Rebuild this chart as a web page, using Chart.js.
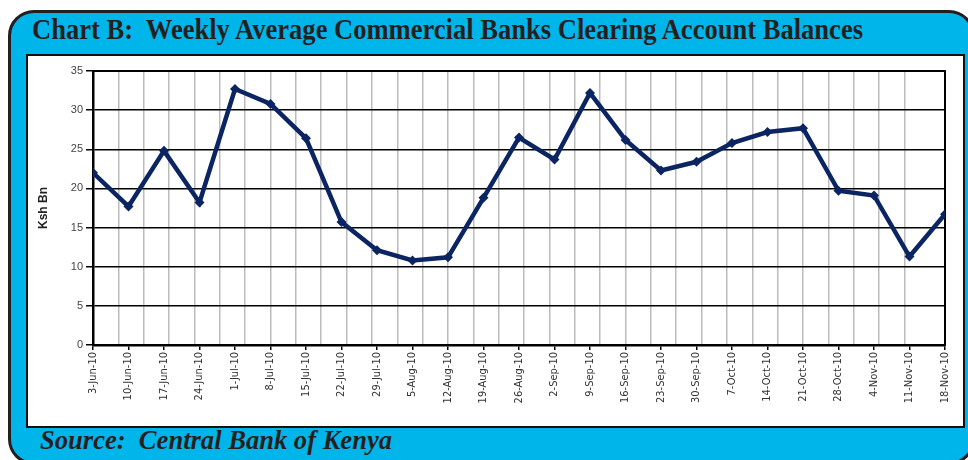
<!DOCTYPE html>
<html>
<head>
<meta charset="utf-8">
<script src="https://cdn.jsdelivr.net/npm/chart.js@4/dist/chart.umd.min.js"></script>
<style>
  html, body { margin: 0; padding: 0; background: #fff; overflow: hidden; }
  #frame {
    position: absolute; left: 8px; top: 10px; width: 967px; height: 455px;
    box-sizing: border-box; background: #00b5ea;
    border: 3px solid #231f20; border-radius: 26px;
  }
  #panel {
    position: absolute; left: 26px; top: 54px; width: 939px; height: 374px;
    box-sizing: border-box; background: #fff; border: 2px solid #111;
  }
  .caption {
    position: absolute; white-space: pre; color: #231f20;
    font-family: "Liberation Serif", "Times New Roman", serif; font-weight: bold;
    transform-origin: 0 0;
  }
  #title { left: 32px; top: 13px; font-size: 29px; }
  #source { left: 40px; top: 424px; font-size: 28px; font-style: italic; }
  #chart { position: absolute; left: 0; top: 0; }
</style>
</head>
<body>
<div id="frame"></div>
<div id="panel"></div>
<div id="title" class="caption">Chart B:  Weekly Average Commercial Banks Clearing Account Balances</div>
<div id="source" class="caption">Source:  Central Bank of Kenya</div>
<canvas id="chart" width="968" height="460"></canvas>
<script>
// Weekly dates (one point per week) and balances in Ksh Bn
const weeks = ['3-Jun-10', '10-Jun-10', '17-Jun-10', '24-Jun-10', '1-Jul-10', '8-Jul-10',
  '15-Jul-10', '22-Jul-10', '29-Jul-10', '5-Aug-10', '12-Aug-10', '19-Aug-10', '26-Aug-10',
  '2-Sep-10', '9-Sep-10', '16-Sep-10', '23-Sep-10', '30-Sep-10', '7-Oct-10', '14-Oct-10',
  '21-Oct-10', '28-Oct-10', '4-Nov-10', '11-Nov-10', '18-Nov-10'];
const balances = [22.0, 17.7, 24.8, 18.2, 32.7, 30.8, 26.4, 15.7, 12.1, 10.8, 11.2, 18.8, 26.5,
  23.7, 32.2, 26.2, 22.3, 23.4, 25.8, 27.2, 27.7, 19.7, 19.1, 11.3, 16.7];
const yTicks = { min: 0, max: 35, step: 5 };
const daysPerWeek = 7;
const gridDays = 5; // vertical gridlines every 5 days (date axis)

// squeeze the serif captions to their width in the original
function fitWidth(id, target) {
  const el = document.getElementById(id);
  el.style.transform = 'scaleX(' + (target / el.getBoundingClientRect().width) + ')';
}
fitWidth('title', 831);
fitWidth('source', 352);

const lastDay = (weeks.length - 1) * daysPerWeek;
const navy = '#0b2462';

new Chart(document.getElementById('chart'), {
  type: 'line',
  data: {
    datasets: [{
      data: balances.map((v, i) => ({ x: i * daysPerWeek, y: v })),
      borderColor: navy,
      backgroundColor: navy,
      borderWidth: 4.5,
      tension: 0,
      pointStyle: 'rectRot',
      pointRadius: 5,
      pointBorderWidth: 0,
      xAxisID: 'x',
      yAxisID: 'y'
    }]
  },
  options: {
    responsive: false,
    animation: false,
    events: [],
    layout: { padding: { left: 32, right: 23, top: 71, bottom: 55 } },
    plugins: { legend: { display: false }, tooltip: { enabled: false } },
    scales: {
      xgrid: {
        type: 'linear', position: 'top', z: -1,
        min: 0, max: lastDay,
        ticks: { display: false, stepSize: gridDays },
        grid: { color: '#bcbcbc', lineWidth: 1.5, drawTicks: false },
        border: { color: '#000', width: 2 },
        afterFit: s => { s.height = 0; }
      },
      x: {
        type: 'linear', position: 'bottom',
        min: 0, max: lastDay,
        afterBuildTicks: s => { s.ticks = weeks.map((w, i) => ({ value: i * daysPerWeek })); },
        ticks: {
          autoSkip: false, minRotation: 90, maxRotation: 90, padding: 2,
          color: '#333',
          font: { family: '"Liberation Sans Narrow", "DejaVu Sans Condensed", sans-serif', size: 11 },
          callback: v => weeks[Math.round(v / daysPerWeek)]
        },
        grid: { drawOnChartArea: false, drawTicks: true, tickLength: 5, color: '#000', lineWidth: 1.5 },
        border: { color: '#000', width: 2.5 },
        afterFit: s => { s.height = 60; }
      },
      y: {
        min: yTicks.min, max: yTicks.max,
        ticks: {
          stepSize: yTicks.step, padding: 3, color: '#444',
          font: { family: '"Liberation Sans", Arial, sans-serif', size: 11 }
        },
        grid: { color: '#000', lineWidth: 1.5, tickLength: 7 },
        border: { color: '#000', width: 2.5 },
        title: {
          display: true, text: 'Ksh Bn', color: '#222', padding: 4,
          font: { family: '"Liberation Sans", Arial, sans-serif', size: 12, weight: 'bold' }
        },
        afterFit: s => { s.width = 61; }
      },
      yright: {
        position: 'right', min: yTicks.min, max: yTicks.max,
        ticks: { display: false },
        grid: { drawOnChartArea: false, drawTicks: false },
        border: { color: '#000', width: 2 },
        afterFit: s => { s.width = 0; }
      }
    }
  }
});
</script>
</body>
</html>
